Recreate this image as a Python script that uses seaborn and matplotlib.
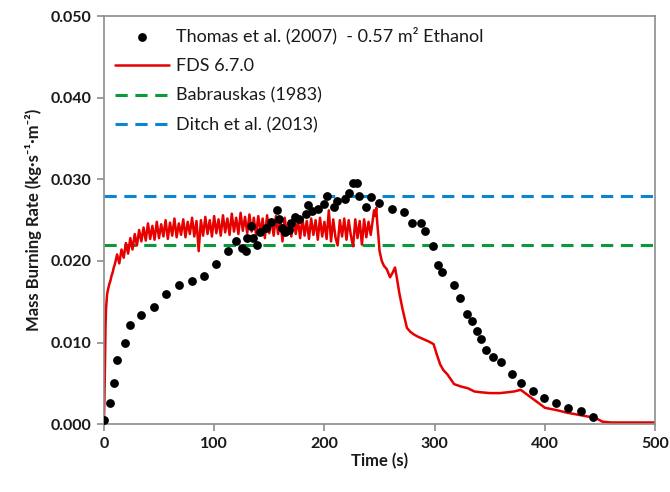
import numpy as np
import pandas as pd
import matplotlib
matplotlib.use("Agg")
import matplotlib.pyplot as plt
import seaborn as sns

# ---- data ----
exp_time = [0, 6, 8.8, 11.5, 18.8, 24, 34, 45.5, 56.7, 68, 79.7, 91, 102, 113, 120, 125,
            129, 130, 133, 135, 139, 141.5, 147, 152, 157, 159, 161.5, 164, 167.5, 170,
            173, 177, 183, 185, 189, 194.5, 200, 202, 209, 211.5, 219, 222, 225.5, 229.5,
            231, 237.6, 241.8, 249.5, 261, 272, 279.4, 288, 291, 298.3, 303.2, 306.9,
            317.6, 322.5, 329.5, 333.7, 338.3, 342.3, 346.6, 353, 360.3, 370.5, 378.5,
            389, 399, 410, 421, 432.3, 443.8]
exp_rate = [0.0005, 0.0026, 0.0051, 0.0078, 0.0099, 0.0122, 0.0134, 0.0144, 0.0159, 0.0170,
            0.0176, 0.0182, 0.0196, 0.0212, 0.0224, 0.0216, 0.0212, 0.0228, 0.0243, 0.0228,
            0.0220, 0.0235, 0.0241, 0.0248, 0.0262, 0.0252, 0.0241, 0.0235, 0.0238, 0.0247,
            0.0254, 0.0251, 0.0257, 0.0268, 0.0261, 0.0264, 0.0270, 0.0280, 0.0266, 0.0273,
            0.0276, 0.0283, 0.0295, 0.0295, 0.0280, 0.0266, 0.0278, 0.0271, 0.0264, 0.0260,
            0.0246, 0.0246, 0.0237, 0.0218, 0.0195, 0.0186, 0.0170, 0.0155, 0.0135, 0.0127,
            0.0114, 0.0104, 0.0091, 0.0082, 0.0076, 0.0062, 0.0051, 0.0040, 0.0032, 0.0026,
            0.0020, 0.0016, 0.0009]

fds_time = [0, 0.5, 1, 1.5, 2, 3, 4, 5, 6, 7, 8, 9,
            10, 12, 14, 16, 18, 20, 22, 24, 26, 28, 30, 32, 34, 36, 38, 40, 42, 44, 46, 48,
            50, 52, 54, 56, 58, 60, 62, 64, 66, 68, 70, 72, 74, 76, 78, 80, 82, 84, 86, 88,
            90, 92, 94, 96, 98, 100, 102, 104, 106, 108, 110, 112, 114, 116, 118, 120, 122,
            124, 126, 128, 130, 132, 134, 136, 138, 140, 142, 144, 146, 148, 150, 152, 154,
            156, 158, 160, 162, 164, 166, 168, 170, 172, 174, 176, 178, 180, 182, 184, 186,
            188, 190, 192, 194, 196, 198, 200, 202, 204, 206, 208, 210, 212, 214, 216, 218,
            220, 222, 224, 226, 228, 230, 232, 234, 236, 238, 240, 242, 244, 245, 246, 247,
            248, 249, 250, 252, 254, 256.5, 259.5, 262, 264, 265.6, 268, 271, 274.8, 278,
            281, 285, 290, 295, 299, 302, 305, 308, 311.5, 317.6, 324, 330, 336, 342, 350,
            359, 366, 372, 378, 383, 387, 392, 396, 400, 411, 420, 432, 440, 448, 452, 460,
            480, 500]
fds_rate = [0.0000, 0.0030, 0.0070, 0.0120, 0.0142, 0.0160, 0.0166, 0.0172, 0.0176, 0.0182,
            0.0186, 0.0192,
            0.0196, 0.0208, 0.0197, 0.0214, 0.0204, 0.0222, 0.0209, 0.0228, 0.0214, 0.0233,
            0.0219, 0.0238, 0.0224, 0.0241, 0.0225, 0.0246, 0.0227, 0.0243, 0.0226, 0.0248,
            0.0228, 0.0245, 0.0230, 0.0250, 0.0227, 0.0247, 0.0231, 0.0252, 0.0229, 0.0246,
            0.0232, 0.0251, 0.0229, 0.0248, 0.0233, 0.0253, 0.0230, 0.0249, 0.0212, 0.0250,
            0.0231, 0.0254, 0.0233, 0.0250, 0.0230, 0.0255, 0.0234, 0.0251, 0.0231, 0.0256,
            0.0235, 0.0252, 0.0232, 0.0258, 0.0236, 0.0253, 0.0233, 0.0259, 0.0237, 0.0254,
            0.0234, 0.0257, 0.0236, 0.0253, 0.0232, 0.0255, 0.0235, 0.0252, 0.0228, 0.0256,
            0.0234, 0.0251, 0.0231, 0.0255, 0.0233, 0.0250, 0.0224, 0.0253, 0.0232, 0.0249,
            0.0230, 0.0254, 0.0233, 0.0250, 0.0228, 0.0253, 0.0231, 0.0249, 0.0227, 0.0252,
            0.0232, 0.0250, 0.0226, 0.0253, 0.0230, 0.0248, 0.0227, 0.0262, 0.0224, 0.0251,
            0.0229, 0.0219, 0.0250, 0.0230, 0.0252, 0.0226, 0.0250, 0.0231, 0.0218, 0.0251,
            0.0228, 0.0249, 0.0220, 0.0251, 0.0229, 0.0248, 0.0232, 0.0252, 0.0262, 0.0255,
            0.0265, 0.0245, 0.0230, 0.0212, 0.0200, 0.0194, 0.0190, 0.0180, 0.0186, 0.0192,
            0.0180, 0.0160, 0.0140, 0.0118, 0.0113, 0.0110, 0.0107, 0.0104, 0.0101, 0.0098,
            0.0085, 0.0073, 0.0066, 0.0061, 0.0049, 0.0046, 0.0044, 0.0040, 0.0039, 0.0038,
            0.0038, 0.0039, 0.0040, 0.0042, 0.0037, 0.0033, 0.0028, 0.0024, 0.0020, 0.0017,
            0.0014, 0.0011, 0.0009, 0.0006, 0.0003, 0.0002, 0.0002, 0.0002]

babrauskas_rate = 0.022
ditch_rate = 0.028

labels = ["Thomas et al. (2007)  - 0.57 m² Ethanol", "FDS 6.7.0",
          "Babrauskas (1983)", "Ditch et al. (2013)"]
x_ticks = [0, 100, 200, 300, 400, 500]
y_ticks = [0.0, 0.01, 0.02, 0.03, 0.04, 0.05]

# ---- plot ----
sns.set_style("white")
plt.rcParams['font.family'] = ['Lato', 'DejaVu Sans']

fig = plt.figure(figsize=(6.7, 4.92), dpi=100)
ax = fig.add_axes([0.155, 0.138, 0.823, 0.829])

exp_df = pd.DataFrame({"t": exp_time, "r": exp_rate})
fds_df = pd.DataFrame({"t": fds_time, "r": fds_rate})

sns.lineplot(data=fds_df, x="t", y="r", ax=ax, color="#e60000", lw=1.8,
             label=labels[1], zorder=2, estimator=None, sort=False)
sns.scatterplot(data=exp_df, x="t", y="r", ax=ax, color="black", s=40,
                edgecolor="black", linewidth=0, label=labels[0], zorder=3)
ax.axhline(babrauskas_rate, color="#0a9a3c", lw=2.2, ls=(0, (4, 2.5)), label=labels[2], zorder=1)
ax.axhline(ditch_rate, color="#0a86d0", lw=2.2, ls=(0, (4, 2.5)), label=labels[3], zorder=1)

ax.set_xlim(0, 500)
ax.set_ylim(0, 0.05)
ax.set_xticks(x_ticks)
ax.set_yticks(y_ticks)
ax.set_xticklabels([str(v) for v in x_ticks], fontsize=11.5, fontweight="bold", color="#1a1a1a")
ax.set_yticklabels([f"{v:.3f}" for v in y_ticks], fontsize=11.5, fontweight="bold", color="#1a1a1a")
ax.set_xlabel("Time (s)", fontsize=12, fontweight="bold", labelpad=2, color="#1a1a1a")
ax.set_ylabel("Mass Burning Rate (kg·s⁻¹·m⁻²)", fontsize=12, fontweight="bold", labelpad=6,
              color="#1a1a1a")

for sp in ax.spines.values():
    sp.set_color("#8c8c8c")
    sp.set_linewidth(1.2)
ax.tick_params(axis="both", which="both", direction="out", length=5, width=1.2,
               color="#8c8c8c", bottom=True, left=True, pad=4)

handles, lbls = ax.get_legend_handles_labels()
order = [lbls.index(l) for l in labels]
leg = ax.legend([handles[i] for i in order], [lbls[i] for i in order], loc="upper left",
                bbox_to_anchor=(0.0, 1.0), frameon=False, fontsize=13,
                handlelength=3.0, handletextpad=0.4, labelspacing=0.75,
                borderaxespad=0.2)
for t in leg.get_texts():
    t.set_color("#1a1a1a")

fig.savefig("out.png", dpi=100)
